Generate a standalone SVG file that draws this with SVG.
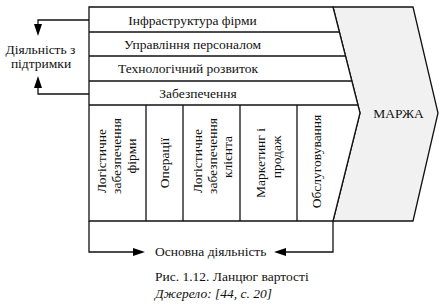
<svg xmlns="http://www.w3.org/2000/svg" width="447" height="307" viewBox="0 0 447 307">
<style>
.ln{fill:none;stroke:#111;stroke-width:1.3}
.bx{fill:#fff;stroke:#111;stroke-width:1.3}
.t{font-size:13.5px;fill:#111}
.v{font-size:13.5px;fill:#111;text-anchor:middle}
.c{text-anchor:middle}
</style>
<rect width="447" height="307" fill="#fff"/>
<g font-family="'Liberation Serif', 'Times New Roman', serif">
<g id="margin">
<polygon points="333,7 413,7 438,113 413,221 333,221 360,113" fill="#f1f1f1" stroke="#111" stroke-width="1.3"/>
<text class="t c" x="398.5" y="118" font-size="13">МАРЖА</text>
</g>
<g id="frame">
<polygon class="bx" points="89,7 333,7 360,113 333,221 89,221"/>
</g>
<g id="infrastructure">
<line class="ln" x1="89" y1="32" x2="339.4" y2="32"/>
<text class="t c" x="192.5" y="24.5">Інфраструктура фірми</text>
</g>
<g id="hr">
<line class="ln" x1="89" y1="56" x2="345.5" y2="56"/>
<text class="t c" x="192.5" y="48.5">Управління персоналом</text>
</g>
<g id="tech">
<line class="ln" x1="89" y1="81" x2="351.8" y2="81"/>
<text class="t c" x="188" y="73">Технологічний розвиток</text>
</g>
<g id="procurement">
<line class="ln" x1="89" y1="105" x2="358" y2="105"/>
<text class="t c" x="198" y="97.5">Забезпечення</text>
</g>
<g id="inbound">
<line class="ln" x1="146" y1="105" x2="146" y2="221"/>
<text class="v" transform="translate(106,161) rotate(-90)">Логістичне</text>
<text class="v" transform="translate(121,156) rotate(-90)">забезпечення</text>
<text class="v" transform="translate(136,156) rotate(-90)">фірми</text>
</g>
<g id="operations">
<line class="ln" x1="183" y1="105" x2="183" y2="221"/>
<text class="v" transform="translate(169,163) rotate(-90)">Операції</text>
</g>
<g id="outbound">
<line class="ln" x1="240" y1="105" x2="240" y2="221"/>
<text class="v" transform="translate(202,161) rotate(-90)">Логістичне</text>
<text class="v" transform="translate(217,156) rotate(-90)">забезпечення</text>
<text class="v" transform="translate(232,157) rotate(-90)">клієнта</text>
</g>
<g id="marketing">
<line class="ln" x1="297" y1="105" x2="297" y2="221"/>
<text class="v" transform="translate(265,163) rotate(-90)">Маркетинг і</text>
<text class="v" transform="translate(281,157) rotate(-90)">продаж</text>
</g>
<g id="service">
<text class="v" transform="translate(321,161.5) rotate(-90)">Обслуговування</text>
</g>
<g id="support-label">
<text class="t c" x="40.5" y="54" font-size="13">Діяльність з</text>
<text class="t c" x="41" y="68" font-size="13">підтримки</text>
</g>
<g id="primary-label">
<text class="t" x="155" y="255.5" font-size="13">Основна діяльність</text>
</g>
<g id="caption">
<text class="t" x="155" y="281" font-size="13">Рис. 1.12. Ланцюг вартості</text>
<text class="t" x="155" y="298" font-size="13.5" font-style="italic">Джерело: [44, с. 20]</text>
</g>
</g>
<g id="connectors">
<path class="ln" d="M89,20 H38 V25"/>
<path d="M34,24 L42,24 L38,36 Z" fill="#000"/>
<path class="ln" d="M89,94 H38 V87"/>
<path d="M34,88 L42,88 L38,76 Z" fill="#000"/>
<path class="ln" d="M89,221 V252 H134"/>
<path d="M133,248 L133,256 L145,252 Z" fill="#000"/>
<path class="ln" d="M333,221 V252 H285"/>
<path d="M286,248 L286,256 L274,252 Z" fill="#000"/>
</g>
</svg>
